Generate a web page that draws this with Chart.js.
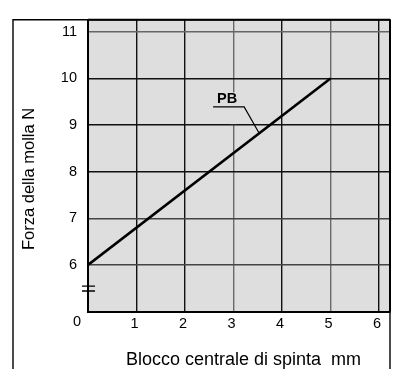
<!DOCTYPE html>
<html>
<head>
<meta charset="utf-8">
<script src="https://cdn.jsdelivr.net/npm/chart.js@4"></script>
<style>
	html, body { margin: 0; padding: 0; background: #fff; }
	#wrap { width: 395px; height: 369px; }
</style>
</head>
<body>
<div id="wrap"><canvas id="chart-line" width="395" height="369"></canvas></div>
<script>
const xValues = [0, 5];
const yValues = [6, 10];
const xTicks = [0, 1, 2, 3, 4, 5, 6];
const yTicks = [5, 6, 7, 8, 9, 10, 11];
const seriesLabel = "PB";
const xTitle = "Blocco centrale di spinta  mm";
const yTitle = "Forza della molla N";

const FONT = "'Liberation Sans', Arial, sans-serif";
const BG = "#dedede";

const ctx = document.getElementById("chart-line");

const data = {
	datasets: [
		{
			label: seriesLabel,
			data: xValues.map((x, i) => ({ x: x, y: yValues[i] })),
			borderColor: "#000",
			borderWidth: 2.6,
			pointRadius: 0,
			fill: false,
		},
	],
};

// grey panel, axis titles, frame, break marks, PB callout
const extras = {
	id: "extras",
	beforeDraw(chart) {
		const { ctx, chartArea } = chart;
		ctx.save();
		ctx.fillStyle = BG;
		ctx.fillRect(chartArea.left, chartArea.top, chartArea.right - chartArea.left, chartArea.bottom - chartArea.top);
		ctx.restore();
	},
	afterDraw(chart) {
		const { ctx, chartArea } = chart;
		const xs = chart.scales.x;
		const ys = chart.scales.y;
		ctx.save();

		// outer frame
		ctx.strokeStyle = "#000";
		ctx.lineWidth = 1.4;
		ctx.beginPath();
		ctx.moveTo(13, 369);
		ctx.lineTo(13, chartArea.top);
		ctx.lineTo(chartArea.right, chartArea.top);
		ctx.lineTo(chartArea.right, 369);
		ctx.stroke();
		ctx.lineWidth = 2;
		ctx.beginPath();
		ctx.moveTo(chartArea.left, chartArea.top);
		ctx.lineTo(chartArea.right, chartArea.top);
		ctx.moveTo(chartArea.right, chartArea.top);
		ctx.lineTo(chartArea.right, chartArea.bottom);
		ctx.stroke();

		// axis break
		ctx.lineWidth = 1.3;
		ctx.beginPath();
		[5.545, 5.44].forEach((v) => {
			const py = ys.getPixelForValue(v);
			ctx.moveTo(chartArea.left - 6, py);
			ctx.lineTo(chartArea.left + 7, py);
		});
		ctx.stroke();

		// origin label
		ctx.fillStyle = "#000";
		ctx.font = "14.5px " + FONT;
		ctx.textAlign = "center";
		ctx.textBaseline = "middle";
		ctx.fillText("0", chartArea.left - 11, chartArea.bottom + 10);

		// axis titles
		ctx.font = "18px " + FONT;
		ctx.textAlign = "left";
		ctx.textBaseline = "alphabetic";
		ctx.fillText(xTitle, 126, 365);
		ctx.save();
		ctx.translate(33.5, 250);
		ctx.rotate(-Math.PI / 2);
		ctx.font = "16.5px " + FONT;
		ctx.fillText(yTitle, 0, 0);
		ctx.restore();

		// PB callout
		const gx = xs.getPixelForValue(3);
		ctx.fillStyle = BG;
		ctx.fillRect(gx - 3, ys.getPixelForValue(9.7), 6, ys.getPixelForValue(9.02) - ys.getPixelForValue(9.7));
		ctx.fillStyle = "#000";
		ctx.font = "bold 14.5px " + FONT;
		ctx.textAlign = "center";
		ctx.fillText(seriesLabel, xs.getPixelForValue(2.87), ys.getPixelForValue(9.47));
		ctx.lineWidth = 1.2;
		ctx.beginPath();
		ctx.moveTo(xs.getPixelForValue(2.58), ys.getPixelForValue(9.39));
		ctx.lineTo(xs.getPixelForValue(3.22), ys.getPixelForValue(9.39));
		ctx.lineTo(xs.getPixelForValue(3.53), ys.getPixelForValue(6 + 0.8 * 3.53));
		ctx.stroke();

		ctx.restore();
	},
};

const xGridColor = (c) => ([3, 5].includes(c.tick && c.tick.value) ? "#6a6a6a" : "#111");
const yGridColor = (c) => {
	const v = c.tick && c.tick.value;
	if (v === 11) return "#666";
	if (v === 6 || v === 7) return "#444";
	return "#111";
};

const options = {
	responsive: false,
	animation: false,
	layout: { padding: { top: 9, right: 5, left: 0, bottom: 0 } },
	plugins: {
		legend: { display: false },
		tooltip: { enabled: false },
	},
	scales: {
		x: {
			type: "linear",
			min: 0,
			max: 6.227,
			afterBuildTicks: (scale) => {
				scale.ticks = xTicks.map((v) => ({ value: v }));
			},
			afterFit: (scale) => {
				scale.height = 57.5;
			},
			grid: { color: xGridColor, lineWidth: 1.4, drawTicks: false },
			border: { color: "#000", width: 2 },
			ticks: {
				color: "#000",
				font: { family: FONT, size: 14.5 },
				padding: 4,
				labelOffset: -2,
				maxRotation: 0,
				callback: (v) => (v === 0 ? "" : String(v)),
			},
		},
		y: {
			type: "linear",
			min: 5,
			max: 11.26,
			afterBuildTicks: (scale) => {
				scale.ticks = yTicks.map((v) => ({ value: v }));
			},
			afterFit: (scale) => {
				scale.width = 88;
			},
			grid: { color: yGridColor, lineWidth: 1.4, drawTicks: false },
			border: { color: "#000", width: 2 },
			ticks: {
				color: "#000",
				font: { family: FONT, size: 14.5 },
				padding: 11,
				callback: (v) => (v === 5 ? "" : String(v)),
			},
		},
	},
};

const config = {
	type: "line",
	plugins: [extras],
	options: options,
	data: data,
};

new Chart(ctx, config);
</script>
</body>
</html>
